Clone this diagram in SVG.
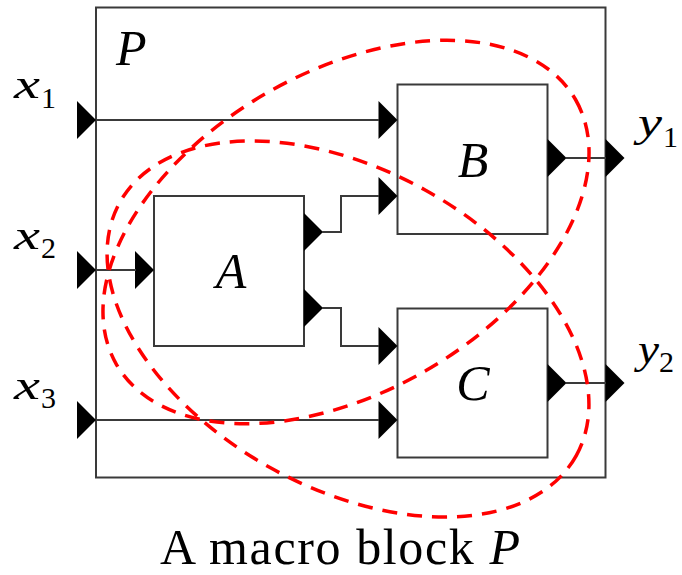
<svg xmlns="http://www.w3.org/2000/svg" xmlns:xlink="http://www.w3.org/1999/xlink" width="682" height="575" viewBox="0 0 682 575">
<style>
  .box { fill: #ffffff; stroke: #3a3a3a; stroke-width: 2; }
  .wire { fill: none; stroke: #3a3a3a; stroke-width: 2; }
  .port { fill: #000000; }
  .grp { fill: none; stroke: #ff0000; stroke-width: 3.5; stroke-dasharray: 15 10; }
  .math { font-family: "Liberation Serif", "DejaVu Serif", serif; font-style: italic; fill: #000; }
  .sub { font-family: "Liberation Serif", "DejaVu Serif", serif; font-style: normal; fill: #000; font-size: 30px; }
  .big { font-size: 50px; }
  .var { font-size: 42px; }
  .cap { font-family: "Liberation Serif", "DejaVu Serif", serif; font-size: 50px; fill: #000; }
</style>
<defs>
  <path id="tri" d="M0,-19 L19,0 L0,19 Z" class="port"/>
</defs>
<rect width="682" height="575" fill="#ffffff"/>

<g id="P">
  <rect class="box" x="96" y="7.5" width="509.5" height="470"/>
  <text class="math big" x="116" y="65">P</text>
  <use xlink:href="#tri" x="77" y="120"/>
  <use xlink:href="#tri" x="77" y="270"/>
  <use xlink:href="#tri" x="77" y="420"/>
  <use xlink:href="#tri" x="605.5" y="158"/>
  <use xlink:href="#tri" x="605.5" y="383"/>
</g>

<g id="A">
  <rect class="box" x="154" y="196" width="150" height="150"/>
  <text class="math big" x="231" y="288" text-anchor="middle">A</text>
  <use xlink:href="#tri" x="135" y="270"/>
  <use xlink:href="#tri" x="304" y="232"/>
  <use xlink:href="#tri" x="304" y="308"/>
</g>

<g id="B">
  <rect class="box" x="397.5" y="84.5" width="150" height="149.5"/>
  <text class="math big" x="473" y="177" text-anchor="middle">B</text>
  <use xlink:href="#tri" x="378.5" y="120"/>
  <use xlink:href="#tri" x="378.5" y="196"/>
  <use xlink:href="#tri" x="547.5" y="158"/>
</g>

<g id="C">
  <rect class="box" x="397.5" y="308.5" width="150" height="149"/>
  <text class="math big" x="473" y="400" text-anchor="middle">C</text>
  <use xlink:href="#tri" x="378.5" y="346"/>
  <use xlink:href="#tri" x="378.5" y="420"/>
  <use xlink:href="#tri" x="547.5" y="383"/>
</g>

<g id="x1"><text class="math var" x="14" y="98" textLength="26" lengthAdjust="spacingAndGlyphs">x</text><text class="sub" x="41" y="108">1</text></g>
<g id="x2"><text class="math var" x="14" y="249" textLength="26" lengthAdjust="spacingAndGlyphs">x</text><text class="sub" x="41" y="258">2</text></g>
<g id="x3"><text class="math var" x="14" y="399" textLength="26" lengthAdjust="spacingAndGlyphs">x</text><text class="sub" x="41" y="408">3</text></g>
<g id="y1"><text class="math var" x="638" y="136" textLength="24" lengthAdjust="spacingAndGlyphs">y</text><text class="sub" x="663" y="147">1</text></g>
<g id="y2"><text class="math var" x="638" y="363" textLength="21" lengthAdjust="spacingAndGlyphs">y</text><text class="sub" x="659" y="372">2</text></g>

<g id="connectors">
  <path class="wire" d="M96,120 H379"/>
  <path class="wire" d="M96,270 H136"/>
  <path class="wire" d="M96,420 H379"/>
  <path class="wire" d="M322,232 H341 V196 H379"/>
  <path class="wire" d="M322,308 H341 V346 H379"/>
  <path class="wire" d="M566,158 H606"/>
  <path class="wire" d="M566,383 H606"/>
</g>

<g id="groups">
  <ellipse class="grp" cx="346" cy="232" rx="265" ry="160" transform="rotate(-30 346 232)"/>
  <ellipse class="grp" cx="348" cy="329" rx="261" ry="159" transform="rotate(29 348 329)"/>
</g>

<g id="caption">
  <text class="cap" x="160" y="564" textLength="360" lengthAdjust="spacing">A macro block <tspan font-style="italic">P</tspan></text>
</g>
</svg>
